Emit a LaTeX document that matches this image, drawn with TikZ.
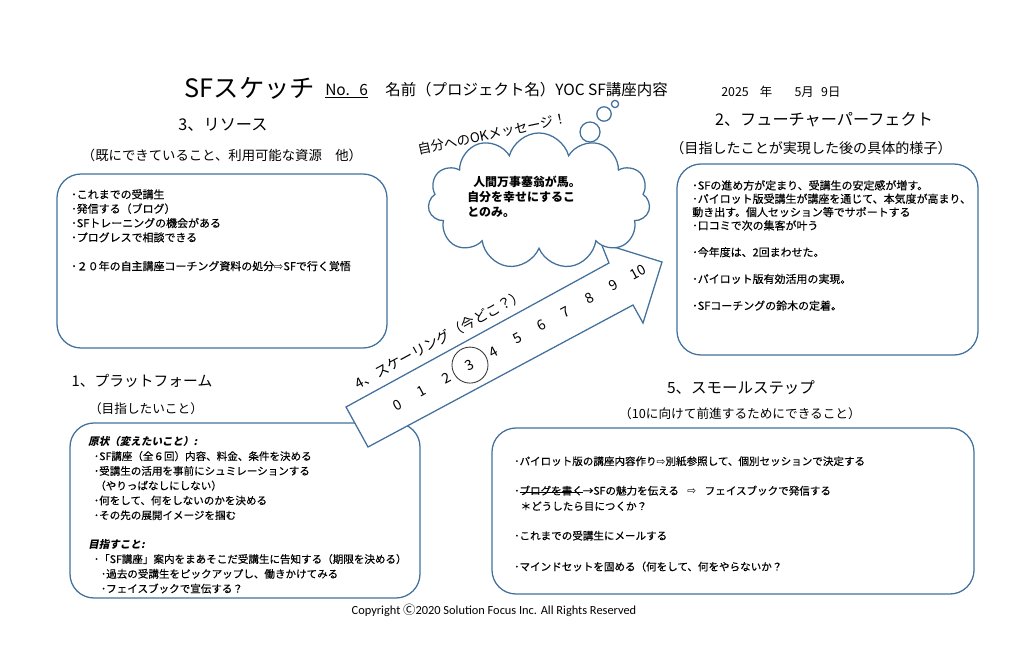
\documentclass[tikz,border=0pt]{standalone}
\usepackage{fontspec}
\usetikzlibrary{shapes.symbols}
\setmainfont{Noto Sans CJK JP}
\newfontfamily\bodyfont{Noto Sans CJK JP}[FakeBold=0.3]
\newfontfamily\calibrifont{Carlito}
\newfontfamily\symbfont{DejaVu Sans}
\newfontfamily\slantfont{Noto Sans CJK JP}[FakeSlant=0.2]
\definecolor{panelblue}{RGB}{65,113,156}
\newcommand{\warrow}{{\symbfont ⇨}}
\newsavebox{\strikebox}
\newcommand{\lowstrike}[1]{\sbox{\strikebox}{#1}\rlap{\usebox{\strikebox}}\rule[0.15em]{\wd\strikebox}{0.6pt}}

\begin{document}
\begin{tikzpicture}[x=0.025cm,y=-0.025cm,
    panel/.style={draw=panelblue,line width=0.9pt,rounded corners=0.6cm},
    body/.style={anchor=north west,align=left,inner sep=0pt,font=\bodyfont\fontsize{7.8}{10.2}\selectfont},
    title/.style={inner sep=0pt,font=\fontsize{11.5}{13}\selectfont},
    subtitle/.style={inner sep=0pt,font=\fontsize{9.5}{11}\selectfont},
    digit/.style={rotate=28.5,inner sep=0pt,font=\fontsize{10}{12}\selectfont}]
    \useasboundingbox[fill=white] (0,0) rectangle (1024,655);

    % header
    \node[inner sep=0pt,font=\fontsize{18}{20}\selectfont] (sketch) at (250,88) {SFスケッチ};
    \node[inner sep=0pt,anchor=west,font=\fontsize{11}{13}\selectfont] (number) at (325,91) {\underline{No.\hspace{0.6em}6}};
    \node[inner sep=0pt,anchor=west,font=\fontsize{11}{13}\selectfont] (project) at (385,90) {名前（プロジェクト名）YOC SF講座内容};
    \node[inner sep=0pt,anchor=west,font=\fontsize{8.8}{10}\selectfont] (date) at (721,92) {2025\hspace{0.9em}年\hspace{1.8em}5月\hspace{0.6em}9日};

    % 3 resources
    \node[title] (resT) at (223,125) {3、リソース};
    \node[subtitle] (resS) at (222,155) {（既にできていること、利用可能な資源　他）};
    \draw[panel] (57,174) rectangle (387,348);
    \node[body] (resB) at (71,189) {･これまでの受講生\\･発信する（ブログ）\\･SFトレーニングの機会がある\\･プログレスで相談できる\\[10.2pt]･２０年の自主講座コーチング資料の処分\warrow SFで行く覚悟};

    % 2 future perfect
    \node[title] (futT) at (824,120) {2、フューチャーパーフェクト};
    \node[subtitle,font=\fontsize{10}{12}\selectfont] (futS) at (811,148) {（目指したことが実現した後の具体的様子）};
    \draw[panel] (677,164) rectangle (978,355);
    \node[body,font=\bodyfont\fontsize{7.8}{9.5}\selectfont] (futB) at (692,180) {･SFの進め方が定まり、受講生の安定感が増す。\\･パイロット版受講生が講座を通じて、本気度が高まり、\\動き出す。個人セッション等でサポートする\\･口コミで次の集客が叶う\\[9.5pt]･今年度は、2回まわせた。\\[9.5pt]･パイロット版有効活用の実現。\\[9.5pt]･SFコーチングの鈴木の定着。};

    % 1 platform
    \node[title,font=\fontsize{10.5}{12}\selectfont] (platT) at (142,381) {1、プラットフォーム};
    \node[subtitle,font=\fontsize{9}{11}\selectfont] (platS) at (146,409) {（目指したいこと）};
    \draw[panel] (70,423) rectangle (420,598);
    \node[body,font=\bodyfont\fontsize{7.5}{10.5}\selectfont] (platB) at (88,436) {{\slantfont\bfseries 原状（変えたいこと）:}\\
        \hspace{4pt}･SF講座（全６回）内容、料金、条件を決める\\
        \hspace{4pt}･受講生の活用を事前にシュミレーションする\\
        \hspace{5pt}（やりっぱなしにしない）\\
        \hspace{4pt}･何をして、何をしないのかを決める\\
        \hspace{4pt}･その先の展開イメージを掴む\\[10.2pt]
        {\slantfont\bfseries 目指すこと:}\\
        \hspace{4pt}･「SF講座」案内をまあそこだ受講生に告知する（期限を決める）\\
        \hspace{9pt}･過去の受講生をピックアップし、働きかけてみる\\
        \hspace{9pt}･フェイスブックで宣伝する？};

    % 4 scaling arrow
    \draw[draw=panelblue,line width=0.9pt,fill=white] (346,407) -- (609,263) -- (601,243) -- (662,262)
        -- (643,323) -- (633,305) -- (368,447) -- cycle;
    \node[rotate=28.5,inner sep=0pt,font=\fontsize{10}{12}\selectfont] (scaleT) at (440,339) {4、スケーリング（今どこ？）};
    \foreach \n in {0,...,10}
        \node[digit] (scale\n) at (398+24*\n,405-13.3*\n) {\n};
    \draw[line width=0.6pt,black!80] (scale3) circle (0.45cm);

    % message to myself
    \node[cloud,cloud puffs=11,aspect=1.6,draw=panelblue,line width=0.9pt,fill=white,
        minimum width=5.55cm,minimum height=3.4cm] (okcloud) at (539,201) {};
    \node[anchor=north west,align=left,inner sep=0pt,font=\fontsize{8.5}{10.5}\selectfont\bfseries] (cloudB) at (467,176) {\hspace{0.5em}人間万事塞翁が馬。\\自分を幸せにするこ\\とのみ。};
    \draw[panelblue,line width=0.9pt,fill=white] (590,132) circle (0.25cm);
    \draw[panelblue,line width=0.9pt,fill=white] (604,114) circle (0.18cm);
    \draw[panelblue,line width=0.9pt,fill=white] (615,104) circle (0.09cm);
    \node[rotate=12,inner sep=0pt,font=\fontsize{9.5}{11}\selectfont] (okmsg) at (492,134) {自分へのOKメッセージ！};

    % 5 small steps
    \node[title,font=\fontsize{11}{13}\selectfont] (stepT) at (741,388) {5、スモールステップ};
    \node[subtitle,font=\fontsize{9}{11}\selectfont] (stepS) at (740,414) {（10に向けて前進するためにできること）};
    \draw[panel] (492,428) rectangle (974,594);
    \node[body,font=\bodyfont\fontsize{7.5}{11}\selectfont] (stepB) at (514,456) {･パイロット版の講座内容作り\warrow 別紙参照して、個別セッションで決定する\\[10pt]
        ･\lowstrike{ブログを書く}→SFの魅力を伝える\hspace{0.8em}\warrow\hspace{0.8em}フェイスブックで発信する\\
        \hspace{0.6em}＊どうしたら目につくか？\\[10pt]
        ･これまでの受講生にメールする\\[11pt]
        ･マインドセットを固める（何をして、何をやらないか？};

    % footer
    \node[inner sep=0pt,font=\fontsize{8.8}{10}\selectfont] (copy) at (494,610) {{\calibrifont Copyright }Ⓒ{\calibrifont 2020 Solution Focus Inc. All Rights Reserved}};
\end{tikzpicture}
\end{document}
